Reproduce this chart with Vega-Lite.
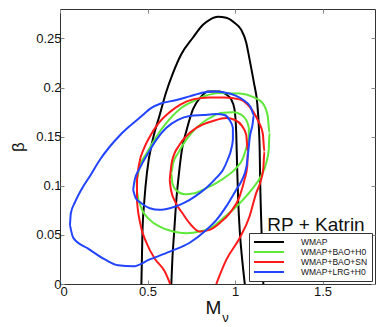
{
  "$schema": "https://vega.github.io/schema/vega-lite/v6.json",
  "width": 315,
  "height": 275,
  "autosize": "none",
  "padding": {"left": 60, "top": 9, "right": 7, "bottom": 43},
  "background": "white",
  "config": {
    "view": {"stroke": "#333333", "strokeWidth": 1},
    "font": "Liberation Sans",
    "axis": {
      "grid": false, "domain": false, "tickSize": -4, "tickColor": "#888888",
      "labelFont": "Liberation Sans", "labelFontSize": 13, "labelColor": "#111111",
      "titleFont": "Liberation Sans", "titleFontWeight": "normal", "titleColor": "#111111"
    }
  },
  "datasets": {
    "contours": [
      {"s":"WMAP","c":"k95","o":1,"x":0.465,"y":0},
      {"s":"WMAP","c":"k95","o":2,"x":0.471,"y":0.052},
      {"s":"WMAP","c":"k95","o":3,"x":0.482,"y":0.085},
      {"s":"WMAP","c":"k95","o":4,"x":0.498,"y":0.115},
      {"s":"WMAP","c":"k95","o":5,"x":0.530,"y":0.147},
      {"s":"WMAP","c":"k95","o":6,"x":0.568,"y":0.171},
      {"s":"WMAP","c":"k95","o":7,"x":0.606,"y":0.195},
      {"s":"WMAP","c":"k95","o":8,"x":0.646,"y":0.215},
      {"s":"WMAP","c":"k95","o":9,"x":0.693,"y":0.234},
      {"s":"WMAP","c":"k95","o":10,"x":0.760,"y":0.251},
      {"s":"WMAP","c":"k95","o":11,"x":0.817,"y":0.264},
      {"s":"WMAP","c":"k95","o":12,"x":0.855,"y":0.269},
      {"s":"WMAP","c":"k95","o":13,"x":0.902,"y":0.272},
      {"s":"WMAP","c":"k95","o":14,"x":0.950,"y":0.271},
      {"s":"WMAP","c":"k95","o":15,"x":0.997,"y":0.266},
      {"s":"WMAP","c":"k95","o":16,"x":1.035,"y":0.259},
      {"s":"WMAP","c":"k95","o":17,"x":1.064,"y":0.246},
      {"s":"WMAP","c":"k95","o":18,"x":1.083,"y":0.229},
      {"s":"WMAP","c":"k95","o":19,"x":1.108,"y":0.205},
      {"s":"WMAP","c":"k95","o":20,"x":1.127,"y":0.184},
      {"s":"WMAP","c":"k95","o":21,"x":1.136,"y":0.161},
      {"s":"WMAP","c":"k95","o":22,"x":1.141,"y":0.137},
      {"s":"WMAP","c":"k95","o":23,"x":1.144,"y":0.103},
      {"s":"WMAP","c":"k95","o":24,"x":1.149,"y":0.069},
      {"s":"WMAP","c":"k95","o":25,"x":1.155,"y":0.035},
      {"s":"WMAP","c":"k95","o":26,"x":1.162,"y":0},
      {"s":"WMAP","c":"k68","o":1,"x":0.636,"y":0},
      {"s":"WMAP","c":"k68","o":2,"x":0.642,"y":0.025},
      {"s":"WMAP","c":"k68","o":3,"x":0.652,"y":0.052},
      {"s":"WMAP","c":"k68","o":4,"x":0.665,"y":0.086},
      {"s":"WMAP","c":"k68","o":5,"x":0.680,"y":0.113},
      {"s":"WMAP","c":"k68","o":6,"x":0.697,"y":0.137},
      {"s":"WMAP","c":"k68","o":7,"x":0.724,"y":0.157},
      {"s":"WMAP","c":"k68","o":8,"x":0.760,"y":0.178},
      {"s":"WMAP","c":"k68","o":9,"x":0.807,"y":0.191},
      {"s":"WMAP","c":"k68","o":10,"x":0.845,"y":0.196},
      {"s":"WMAP","c":"k68","o":11,"x":0.912,"y":0.196},
      {"s":"WMAP","c":"k68","o":12,"x":0.950,"y":0.193},
      {"s":"WMAP","c":"k68","o":13,"x":0.978,"y":0.188},
      {"s":"WMAP","c":"k68","o":14,"x":0.997,"y":0.178},
      {"s":"WMAP","c":"k68","o":15,"x":1.007,"y":0.154},
      {"s":"WMAP","c":"k68","o":16,"x":1.012,"y":0.120},
      {"s":"WMAP","c":"k68","o":17,"x":1.018,"y":0.086},
      {"s":"WMAP","c":"k68","o":18,"x":1.028,"y":0.052},
      {"s":"WMAP","c":"k68","o":19,"x":1.041,"y":0.025},
      {"s":"WMAP","c":"k68","o":20,"x":1.056,"y":0},
      {"s":"WMAP+BAO+H0","c":"g95","o":1,"x":0.912,"y":0.1946},
      {"s":"WMAP+BAO+H0","c":"g95","o":2,"x":1.026,"y":0.1939},
      {"s":"WMAP+BAO+H0","c":"g95","o":3,"x":1.102,"y":0.1905},
      {"s":"WMAP+BAO+H0","c":"g95","o":4,"x":1.159,"y":0.184},
      {"s":"WMAP+BAO+H0","c":"g95","o":5,"x":1.187,"y":0.171},
      {"s":"WMAP+BAO+H0","c":"g95","o":6,"x":1.197,"y":0.154},
      {"s":"WMAP+BAO+H0","c":"g95","o":7,"x":1.193,"y":0.137},
      {"s":"WMAP+BAO+H0","c":"g95","o":8,"x":1.178,"y":0.123},
      {"s":"WMAP+BAO+H0","c":"g95","o":9,"x":1.149,"y":0.110},
      {"s":"WMAP+BAO+H0","c":"g95","o":10,"x":1.102,"y":0.0976},
      {"s":"WMAP+BAO+H0","c":"g95","o":11,"x":1.045,"y":0.0857},
      {"s":"WMAP+BAO+H0","c":"g95","o":12,"x":0.988,"y":0.0755},
      {"s":"WMAP+BAO+H0","c":"g95","o":13,"x":0.931,"y":0.067},
      {"s":"WMAP+BAO+H0","c":"g95","o":14,"x":0.874,"y":0.0585},
      {"s":"WMAP+BAO+H0","c":"g95","o":15,"x":0.798,"y":0.0534},
      {"s":"WMAP+BAO+H0","c":"g95","o":16,"x":0.722,"y":0.0517},
      {"s":"WMAP+BAO+H0","c":"g95","o":17,"x":0.646,"y":0.0534},
      {"s":"WMAP+BAO+H0","c":"g95","o":18,"x":0.570,"y":0.0585},
      {"s":"WMAP+BAO+H0","c":"g95","o":19,"x":0.513,"y":0.0653},
      {"s":"WMAP+BAO+H0","c":"g95","o":20,"x":0.465,"y":0.0772},
      {"s":"WMAP+BAO+H0","c":"g95","o":21,"x":0.441,"y":0.0925},
      {"s":"WMAP+BAO+H0","c":"g95","o":22,"x":0.437,"y":0.106},
      {"s":"WMAP+BAO+H0","c":"g95","o":23,"x":0.456,"y":0.120},
      {"s":"WMAP+BAO+H0","c":"g95","o":24,"x":0.494,"y":0.133},
      {"s":"WMAP+BAO+H0","c":"g95","o":25,"x":0.551,"y":0.150},
      {"s":"WMAP+BAO+H0","c":"g95","o":26,"x":0.608,"y":0.164},
      {"s":"WMAP+BAO+H0","c":"g95","o":27,"x":0.684,"y":0.178},
      {"s":"WMAP+BAO+H0","c":"g95","o":28,"x":0.760,"y":0.186},
      {"s":"WMAP+BAO+H0","c":"g95","o":29,"x":0.836,"y":0.192},
      {"s":"WMAP+BAO+H0","c":"g95","o":30,"x":0.912,"y":0.1946},
      {"s":"WMAP+BAO+H0","c":"g68","o":1,"x":0.912,"y":0.174},
      {"s":"WMAP+BAO+H0","c":"g68","o":2,"x":0.988,"y":0.1748},
      {"s":"WMAP+BAO+H0","c":"g68","o":3,"x":1.035,"y":0.1724},
      {"s":"WMAP+BAO+H0","c":"g68","o":4,"x":1.064,"y":0.167},
      {"s":"WMAP+BAO+H0","c":"g68","o":5,"x":1.079,"y":0.159},
      {"s":"WMAP+BAO+H0","c":"g68","o":6,"x":1.079,"y":0.150},
      {"s":"WMAP+BAO+H0","c":"g68","o":7,"x":1.067,"y":0.140},
      {"s":"WMAP+BAO+H0","c":"g68","o":8,"x":1.045,"y":0.128},
      {"s":"WMAP+BAO+H0","c":"g68","o":9,"x":1.007,"y":0.118},
      {"s":"WMAP+BAO+H0","c":"g68","o":10,"x":0.950,"y":0.1095},
      {"s":"WMAP+BAO+H0","c":"g68","o":11,"x":0.893,"y":0.1027},
      {"s":"WMAP+BAO+H0","c":"g68","o":12,"x":0.836,"y":0.0976},
      {"s":"WMAP+BAO+H0","c":"g68","o":13,"x":0.769,"y":0.0925},
      {"s":"WMAP+BAO+H0","c":"g68","o":14,"x":0.712,"y":0.0915},
      {"s":"WMAP+BAO+H0","c":"g68","o":15,"x":0.665,"y":0.0952},
      {"s":"WMAP+BAO+H0","c":"g68","o":16,"x":0.642,"y":0.1027},
      {"s":"WMAP+BAO+H0","c":"g68","o":17,"x":0.636,"y":0.113},
      {"s":"WMAP+BAO+H0","c":"g68","o":18,"x":0.646,"y":0.123},
      {"s":"WMAP+BAO+H0","c":"g68","o":19,"x":0.674,"y":0.133},
      {"s":"WMAP+BAO+H0","c":"g68","o":20,"x":0.722,"y":0.147},
      {"s":"WMAP+BAO+H0","c":"g68","o":21,"x":0.779,"y":0.159},
      {"s":"WMAP+BAO+H0","c":"g68","o":22,"x":0.836,"y":0.167},
      {"s":"WMAP+BAO+H0","c":"g68","o":23,"x":0.912,"y":0.174},
      {"s":"WMAP+BAO+SN","c":"r95","o":1,"x":0.630,"y":0},
      {"s":"WMAP+BAO+SN","c":"r95","o":2,"x":0.598,"y":0.013},
      {"s":"WMAP+BAO+SN","c":"r95","o":3,"x":0.545,"y":0.025},
      {"s":"WMAP+BAO+SN","c":"r95","o":4,"x":0.494,"y":0.042},
      {"s":"WMAP+BAO+SN","c":"r95","o":5,"x":0.458,"y":0.062},
      {"s":"WMAP+BAO+SN","c":"r95","o":6,"x":0.440,"y":0.085},
      {"s":"WMAP+BAO+SN","c":"r95","o":7,"x":0.440,"y":0.106},
      {"s":"WMAP+BAO+SN","c":"r95","o":8,"x":0.452,"y":0.122},
      {"s":"WMAP+BAO+SN","c":"r95","o":9,"x":0.480,"y":0.138},
      {"s":"WMAP+BAO+SN","c":"r95","o":10,"x":0.513,"y":0.150},
      {"s":"WMAP+BAO+SN","c":"r95","o":11,"x":0.560,"y":0.163},
      {"s":"WMAP+BAO+SN","c":"r95","o":12,"x":0.627,"y":0.175},
      {"s":"WMAP+BAO+SN","c":"r95","o":13,"x":0.690,"y":0.183},
      {"s":"WMAP+BAO+SN","c":"r95","o":14,"x":0.760,"y":0.188},
      {"s":"WMAP+BAO+SN","c":"r95","o":15,"x":0.855,"y":0.190},
      {"s":"WMAP+BAO+SN","c":"r95","o":16,"x":0.940,"y":0.190},
      {"s":"WMAP+BAO+SN","c":"r95","o":17,"x":1.026,"y":0.188},
      {"s":"WMAP+BAO+SN","c":"r95","o":18,"x":1.070,"y":0.183},
      {"s":"WMAP+BAO+SN","c":"r95","o":19,"x":1.102,"y":0.176},
      {"s":"WMAP+BAO+SN","c":"r95","o":20,"x":1.135,"y":0.165},
      {"s":"WMAP+BAO+SN","c":"r95","o":21,"x":1.159,"y":0.153},
      {"s":"WMAP+BAO+SN","c":"r95","o":22,"x":1.168,"y":0.135},
      {"s":"WMAP+BAO+SN","c":"r95","o":23,"x":1.162,"y":0.118},
      {"s":"WMAP+BAO+SN","c":"r95","o":24,"x":1.149,"y":0.106},
      {"s":"WMAP+BAO+SN","c":"r95","o":25,"x":1.121,"y":0.0925},
      {"s":"WMAP+BAO+SN","c":"r95","o":26,"x":1.083,"y":0.0687},
      {"s":"WMAP+BAO+SN","c":"r95","o":27,"x":1.026,"y":0.0466},
      {"s":"WMAP+BAO+SN","c":"r95","o":28,"x":0.950,"y":0.0245},
      {"s":"WMAP+BAO+SN","c":"r95","o":29,"x":0.893,"y":0},
      {"s":"WMAP+BAO+SN","c":"r68","o":1,"x":0.627,"y":0.106},
      {"s":"WMAP+BAO+SN","c":"r68","o":2,"x":0.640,"y":0.125},
      {"s":"WMAP+BAO+SN","c":"r68","o":3,"x":0.684,"y":0.142},
      {"s":"WMAP+BAO+SN","c":"r68","o":4,"x":0.730,"y":0.152},
      {"s":"WMAP+BAO+SN","c":"r68","o":5,"x":0.779,"y":0.159},
      {"s":"WMAP+BAO+SN","c":"r68","o":6,"x":0.874,"y":0.166},
      {"s":"WMAP+BAO+SN","c":"r68","o":7,"x":0.950,"y":0.169},
      {"s":"WMAP+BAO+SN","c":"r68","o":8,"x":1.000,"y":0.167},
      {"s":"WMAP+BAO+SN","c":"r68","o":9,"x":1.040,"y":0.161},
      {"s":"WMAP+BAO+SN","c":"r68","o":10,"x":1.064,"y":0.152},
      {"s":"WMAP+BAO+SN","c":"r68","o":11,"x":1.073,"y":0.135},
      {"s":"WMAP+BAO+SN","c":"r68","o":12,"x":1.070,"y":0.120},
      {"s":"WMAP+BAO+SN","c":"r68","o":13,"x":1.054,"y":0.106},
      {"s":"WMAP+BAO+SN","c":"r68","o":14,"x":1.026,"y":0.089},
      {"s":"WMAP+BAO+SN","c":"r68","o":15,"x":0.969,"y":0.072},
      {"s":"WMAP+BAO+SN","c":"r68","o":16,"x":0.912,"y":0.062},
      {"s":"WMAP+BAO+SN","c":"r68","o":17,"x":0.855,"y":0.0551},
      {"s":"WMAP+BAO+SN","c":"r68","o":18,"x":0.798,"y":0.0534},
      {"s":"WMAP+BAO+SN","c":"r68","o":19,"x":0.740,"y":0.062},
      {"s":"WMAP+BAO+SN","c":"r68","o":20,"x":0.700,"y":0.072},
      {"s":"WMAP+BAO+SN","c":"r68","o":21,"x":0.660,"y":0.083},
      {"s":"WMAP+BAO+SN","c":"r68","o":22,"x":0.634,"y":0.096},
      {"s":"WMAP+BAO+SN","c":"r68","o":23,"x":0.627,"y":0.106},
      {"s":"WMAP+LRG+H0","c":"b95","o":1,"x":0.057,"y":0.060},
      {"s":"WMAP+LRG+H0","c":"b95","o":2,"x":0.062,"y":0.072},
      {"s":"WMAP+LRG+H0","c":"b95","o":3,"x":0.085,"y":0.083},
      {"s":"WMAP+LRG+H0","c":"b95","o":4,"x":0.125,"y":0.097},
      {"s":"WMAP+LRG+H0","c":"b95","o":5,"x":0.175,"y":0.111},
      {"s":"WMAP+LRG+H0","c":"b95","o":6,"x":0.230,"y":0.127},
      {"s":"WMAP+LRG+H0","c":"b95","o":7,"x":0.285,"y":0.140},
      {"s":"WMAP+LRG+H0","c":"b95","o":8,"x":0.340,"y":0.151},
      {"s":"WMAP+LRG+H0","c":"b95","o":9,"x":0.400,"y":0.161},
      {"s":"WMAP+LRG+H0","c":"b95","o":10,"x":0.460,"y":0.170},
      {"s":"WMAP+LRG+H0","c":"b95","o":11,"x":0.520,"y":0.179},
      {"s":"WMAP+LRG+H0","c":"b95","o":12,"x":0.580,"y":0.184},
      {"s":"WMAP+LRG+H0","c":"b95","o":13,"x":0.660,"y":0.187},
      {"s":"WMAP+LRG+H0","c":"b95","o":14,"x":0.740,"y":0.191},
      {"s":"WMAP+LRG+H0","c":"b95","o":15,"x":0.820,"y":0.195},
      {"s":"WMAP+LRG+H0","c":"b95","o":16,"x":0.880,"y":0.196},
      {"s":"WMAP+LRG+H0","c":"b95","o":17,"x":0.940,"y":0.195},
      {"s":"WMAP+LRG+H0","c":"b95","o":18,"x":1.000,"y":0.192},
      {"s":"WMAP+LRG+H0","c":"b95","o":19,"x":1.050,"y":0.187},
      {"s":"WMAP+LRG+H0","c":"b95","o":20,"x":1.090,"y":0.180},
      {"s":"WMAP+LRG+H0","c":"b95","o":21,"x":1.108,"y":0.172},
      {"s":"WMAP+LRG+H0","c":"b95","o":22,"x":1.100,"y":0.162},
      {"s":"WMAP+LRG+H0","c":"b95","o":23,"x":1.085,"y":0.150},
      {"s":"WMAP+LRG+H0","c":"b95","o":24,"x":1.076,"y":0.135},
      {"s":"WMAP+LRG+H0","c":"b95","o":25,"x":1.066,"y":0.120},
      {"s":"WMAP+LRG+H0","c":"b95","o":26,"x":1.040,"y":0.106},
      {"s":"WMAP+LRG+H0","c":"b95","o":27,"x":1.007,"y":0.096},
      {"s":"WMAP+LRG+H0","c":"b95","o":28,"x":0.950,"y":0.079},
      {"s":"WMAP+LRG+H0","c":"b95","o":29,"x":0.893,"y":0.065},
      {"s":"WMAP+LRG+H0","c":"b95","o":30,"x":0.836,"y":0.055},
      {"s":"WMAP+LRG+H0","c":"b95","o":31,"x":0.741,"y":0.042},
      {"s":"WMAP+LRG+H0","c":"b95","o":32,"x":0.627,"y":0.033},
      {"s":"WMAP+LRG+H0","c":"b95","o":33,"x":0.513,"y":0.025},
      {"s":"WMAP+LRG+H0","c":"b95","o":34,"x":0.418,"y":0.018},
      {"s":"WMAP+LRG+H0","c":"b95","o":35,"x":0.332,"y":0.019},
      {"s":"WMAP+LRG+H0","c":"b95","o":36,"x":0.256,"y":0.025},
      {"s":"WMAP+LRG+H0","c":"b95","o":37,"x":0.161,"y":0.036},
      {"s":"WMAP+LRG+H0","c":"b95","o":38,"x":0.076,"y":0.047},
      {"s":"WMAP+LRG+H0","c":"b95","o":39,"x":0.057,"y":0.060},
      {"s":"WMAP+LRG+H0","c":"b68","o":1,"x":0.418,"y":0.0959},
      {"s":"WMAP+LRG+H0","c":"b68","o":2,"x":0.427,"y":0.106},
      {"s":"WMAP+LRG+H0","c":"b68","o":3,"x":0.456,"y":0.118},
      {"s":"WMAP+LRG+H0","c":"b68","o":4,"x":0.503,"y":0.133},
      {"s":"WMAP+LRG+H0","c":"b68","o":5,"x":0.551,"y":0.147},
      {"s":"WMAP+LRG+H0","c":"b68","o":6,"x":0.608,"y":0.159},
      {"s":"WMAP+LRG+H0","c":"b68","o":7,"x":0.674,"y":0.167},
      {"s":"WMAP+LRG+H0","c":"b68","o":8,"x":0.741,"y":0.171},
      {"s":"WMAP+LRG+H0","c":"b68","o":9,"x":0.817,"y":0.172},
      {"s":"WMAP+LRG+H0","c":"b68","o":10,"x":0.893,"y":0.173},
      {"s":"WMAP+LRG+H0","c":"b68","o":11,"x":0.940,"y":0.172},
      {"s":"WMAP+LRG+H0","c":"b68","o":12,"x":0.969,"y":0.167},
      {"s":"WMAP+LRG+H0","c":"b68","o":13,"x":0.988,"y":0.159},
      {"s":"WMAP+LRG+H0","c":"b68","o":14,"x":0.988,"y":0.147},
      {"s":"WMAP+LRG+H0","c":"b68","o":15,"x":0.978,"y":0.137},
      {"s":"WMAP+LRG+H0","c":"b68","o":16,"x":0.959,"y":0.127},
      {"s":"WMAP+LRG+H0","c":"b68","o":17,"x":0.931,"y":0.116},
      {"s":"WMAP+LRG+H0","c":"b68","o":18,"x":0.893,"y":0.108},
      {"s":"WMAP+LRG+H0","c":"b68","o":19,"x":0.845,"y":0.0993},
      {"s":"WMAP+LRG+H0","c":"b68","o":20,"x":0.798,"y":0.0925},
      {"s":"WMAP+LRG+H0","c":"b68","o":21,"x":0.741,"y":0.0857},
      {"s":"WMAP+LRG+H0","c":"b68","o":22,"x":0.684,"y":0.0806},
      {"s":"WMAP+LRG+H0","c":"b68","o":23,"x":0.627,"y":0.0772},
      {"s":"WMAP+LRG+H0","c":"b68","o":24,"x":0.570,"y":0.0755},
      {"s":"WMAP+LRG+H0","c":"b68","o":25,"x":0.513,"y":0.0772},
      {"s":"WMAP+LRG+H0","c":"b68","o":26,"x":0.465,"y":0.0823},
      {"s":"WMAP+LRG+H0","c":"b68","o":27,"x":0.433,"y":0.0874},
      {"s":"WMAP+LRG+H0","c":"b68","o":28,"x":0.418,"y":0.0959}
    ],
    "notes": [
      {"label": "RP + Katrin", "x": 1.463, "y": 0.0544}
    ],
    "sub": [
      {"label": "ν", "x": 0.945, "y": -0.0385}
    ]
  },
  "resolve": {"axis": {"x": "independent", "y": "independent"}},
  "layer": [
    {
      "data": {"name": "contours"},
      "mark": {"type": "line", "strokeWidth": 2, "clip": true, "interpolate": "monotone"},
      "encoding": {
        "x": {"field": "x", "type": "quantitative", "scale": {"domain": [0, 1.8], "nice": false},
          "axis": {"title": "M", "values": [0, 0.5, 1, 1.5], "format": "~g", "titleFontSize": 19, "titlePadding": 0, "labelPadding": 5, "titleX": 153}},
        "y": {"field": "y", "type": "quantitative", "scale": {"domain": [0, 0.28], "nice": false},
          "axis": {"title": "β", "values": [0, 0.05, 0.1, 0.15, 0.2, 0.25], "format": "~g", "titleFontSize": 17, "titlePadding": 8, "labelPadding": 3}},
        "color": {"field": "s", "type": "nominal",
          "scale": {"domain": ["WMAP", "WMAP+BAO+H0", "WMAP+BAO+SN", "WMAP+LRG+H0"], "range": ["#000000", "#5FE83A", "#FF1A1A", "#2244FF"]},
          "legend": {"title": null, "orient": "bottom-right", "offset": 3, "padding": 4, "fillColor": "white", "strokeColor": "#333333",
            "symbolType": "M-3.75,0H3.75", "symbolSize": 64, "symbolStrokeWidth": 2, "symbolOffset": 11, "labelFontSize": 8.5, "labelFont": "Liberation Sans",
            "labelOffset": 27, "rowPadding": 0, "labelColor": "#111111"}},
        "detail": {"field": "c"},
        "order": {"field": "o", "type": "quantitative"}
      }
    },
    {
      "data": {"name": "contours"},
      "mark": {"type": "line", "opacity": 0},
      "encoding": {
        "x": {"field": "x", "type": "quantitative", "axis": {"orient": "top", "labels": false, "title": null, "values": [0, 0.5, 1, 1.5]}},
        "y": {"field": "y", "type": "quantitative", "axis": {"orient": "right", "labels": false, "title": null, "values": [0, 0.05, 0.1, 0.15, 0.2, 0.25]}},
        "detail": {"field": "c"}
      }
    },
    {
      "data": {"name": "notes"},
      "mark": {"type": "text", "fontSize": 19, "font": "Liberation Sans", "align": "center", "baseline": "alphabetic", "color": "#111111"},
      "encoding": {
        "x": {"field": "x", "type": "quantitative", "axis": null},
        "y": {"field": "y", "type": "quantitative", "axis": null},
        "text": {"field": "label"}
      }
    },
    {
      "data": {"name": "sub"},
      "mark": {"type": "text", "fontSize": 13, "font": "Liberation Sans", "align": "center", "baseline": "alphabetic", "color": "#111111"},
      "encoding": {
        "x": {"field": "x", "type": "quantitative", "axis": null},
        "y": {"field": "y", "type": "quantitative", "axis": null},
        "text": {"field": "label"}
      }
    }
  ]
}
